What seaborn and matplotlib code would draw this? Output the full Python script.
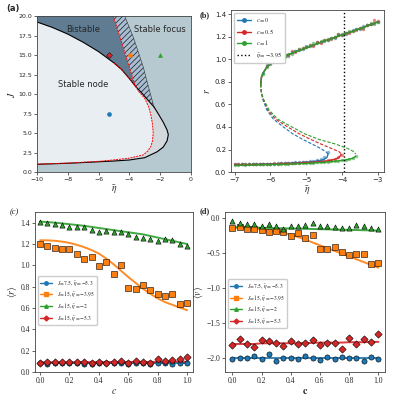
import numpy as np
import seaborn as sns
import matplotlib.pyplot as plt
from matplotlib.lines import Line2D

sns.set_style("ticks")
plt.rcParams["font.family"] = ["DejaVu Sans"]
plt.rcParams["mathtext.fontset"] = "stix"
plt.rcParams["hatch.linewidth"] = 0.5

BLUE, ORANGE, GREEN, RED = "#1f77b4", "#ff7f0e", "#2ca02c", "#d62728"

# ---- panel (a): phase diagram boundaries
sn_left_eta = [-10, -9, -8, -7, -6, -5, -4.5, -4, -3.6, -3.2, -2.8, -2.4]
sn_left_J = [19.25, 18.55, 17.7, 16.65, 15.45, 14.0, 13.15, 12.0, 11.0, 10.15, 9.25, 8.35]
sn_right_eta = [-2.4, -2.7, -3.1, -3.75, -4.3]
sn_right_J = [8.35, 10.5, 13.5, 17.35, 20]
red_top_eta = [-5.05, -4.75, -4.45, -4.15, -3.85, -3.6]
red_top_J = [20, 18.2, 16.3, 14.4, 12.5, 11.0]
node_eta = [-3.6, -3.4, -3.0, -2.75, -2.6, -2.5, -2.45, -2.5, -2.6, -2.8, -3.1, -3.96, -5.05, -6, -8, -10]
node_J = [11.0, 10.35, 9.45, 8.4, 7.3, 6.2, 5.0, 4.0, 3.3, 2.7, 2.2, 1.8, 1.55, 1.38, 1.15, 1.02]
focus_eta = [-2.4, -2.1, -1.8, -1.55, -1.47, -1.55, -1.8, -2.2, -3.0, -4.0, -5.0, -6.0, -8.0, -10.0]
focus_J = [8.35, 7.4, 6.4, 5.4, 4.8, 4.0, 3.2, 2.6, 1.85, 1.55, 1.42, 1.32, 1.13, 1.0]
pt_eta = [-5.3, -3.95, -2, -5.3]
pt_J = [7.5, 15, 15, 15]
pt_color = [BLUE, ORANGE, GREEN, RED]
pt_marker = ["o", "o", "^", "D"]

# ---- panel (b): bifurcation curves r(eta) at J=15
up_eta = [-6.27, -6.25, -6.2, -6.1, -6.0, -5.8, -5.5, -5.0, -4.5, -4.0, -3.5, -3.0]
up_r = [0.78, 0.84, 0.88, 0.93, 0.96, 1.0, 1.04, 1.10, 1.16, 1.215, 1.27, 1.33]
mid_r = [0.78, 0.72, 0.65, 0.55, 0.47, 0.40, 0.34, 0.29, 0.25, 0.21, 0.18, 0.16]
mid_eta = {
    "blue": [-6.27, -6.26, -6.22, -6.1, -5.92, -5.64, -5.38, -5.1, -4.85, -4.6, -4.45, -4.39],
    "red": [-6.27, -6.26, -6.21, -6.07, -5.86, -5.52, -5.2, -4.88, -4.6, -4.3, -4.08, -4.02],
    "green": [-6.27, -6.26, -6.2, -6.04, -5.8, -5.4, -5.05, -4.65, -4.2, -3.85, -3.66, -3.62],
}
lo_eta = {
    "blue": [-7, -6.5, -6, -5.5, -5, -4.8, -4.6, -4.5, -4.42, -4.39],
    "red": [-7, -6.5, -6, -5.5, -5, -4.6, -4.4, -4.2, -4.08, -4.02],
    "green": [-7, -6.5, -6, -5.5, -5, -4.5, -4.2, -3.9, -3.7, -3.62],
}
lo_r = {
    "blue": [0.065, 0.068, 0.072, 0.078, 0.087, 0.093, 0.103, 0.112, 0.13, 0.16],
    "red": [0.063, 0.066, 0.07, 0.075, 0.083, 0.092, 0.1, 0.113, 0.13, 0.157],
    "green": [0.06, 0.063, 0.067, 0.071, 0.077, 0.087, 0.095, 0.108, 0.122, 0.14],
}

# simulation points on eta = -7.0 ... -3.0 (step 0.1)
eta_sim = [-7.0, -6.9, -6.8, -6.7, -6.6, -6.5, -6.4, -6.3, -6.2, -6.1, -6.0, -5.9, -5.8, -5.7,
           -5.6, -5.5, -5.4, -5.3, -5.2, -5.1, -5.0, -4.9, -4.8, -4.7, -4.6, -4.5, -4.4, -4.3,
           -4.2, -4.1, -4.0, -3.9, -3.8, -3.7, -3.6, -3.5, -3.4, -3.3, -3.2, -3.1, -3.0]
nan = np.nan
sim_up = {
    "blue": [nan] * 8 + [0.88, 0.95, 0.96, 0.98, 1.00, 1.00, 1.03, 1.03, 1.06, 1.07, 1.08, 1.09,
                         1.12, 1.12, 1.13, 1.15, 1.15, 1.16, 1.17, 1.19, 1.19, 1.21, 1.22, 1.22,
                         1.24, 1.26, 1.27, 1.27, 1.29, 1.30, 1.31, 1.32, 1.33],
    "red": [nan] * 9 + [0.94, 0.97, 0.99, 1.01, 1.02, 1.04, 1.04, 1.07, 1.06, 1.09, 1.10, 1.11,
                        1.13, 1.12, 1.15, 1.14, 1.17, 1.18, 1.18, 1.20, 1.22, 1.21, 1.23, 1.23,
                        1.25, 1.26, 1.28, 1.27, 1.30, 1.31, 1.35, 1.34],
    "green": [nan] * 8 + [0.87, 0.93, 0.97, 0.99, 0.99, 1.01, 1.02, 1.05, 1.05, 1.07, 1.09, 1.10,
                          1.11, 1.13, 1.14, 1.14, 1.16, 1.17, 1.17, 1.19, 1.20, 1.22, 1.21, 1.23,
                          1.25, 1.25, 1.27, 1.28, 1.28, 1.30, 1.32, 1.31, 1.33],
}
sim_lo = {
    "blue": [0.07, 0.072, 0.068, 0.07, 0.073, 0.07, 0.072, 0.075, 0.071, 0.074, 0.076, 0.074,
             0.078, 0.077, 0.08, 0.082, 0.081, 0.085, 0.087, 0.089, 0.093, 0.097, 0.1, 0.106,
             0.115, 0.13, 0.178] + [nan] * 14,
    "red": [0.068, 0.07, 0.072, 0.069, 0.07, 0.073, 0.07, 0.074, 0.072, 0.075, 0.073, 0.077,
            0.076, 0.078, 0.08, 0.079, 0.082, 0.081, 0.084, 0.085, 0.087, 0.09, 0.092, 0.095,
            0.098, 0.1, 0.105, 0.11, 0.118, 0.13, 0.155] + [nan] * 10,
    "green": [0.065, 0.067, 0.07, 0.066, 0.068, 0.07, 0.072, 0.068, 0.071, 0.07, 0.073, 0.072,
              0.074, 0.073, 0.076, 0.075, 0.078, 0.077, 0.079, 0.08, 0.082, 0.081, 0.084, 0.086,
              0.088, 0.09, 0.092, 0.095, 0.098, 0.1, 0.106, 0.11, 0.118, 0.128, 0.14] + [nan] * 6,
}
b_colors = {"blue": BLUE, "red": RED, "green": GREEN}
b_labels = {"blue": r"$c=0$", "red": r"$c=0.5$", "green": r"$c=1$"}

# ---- panels (c) and (d): mean rate / voltage vs c
c_vals = [0.0, 0.05, 0.1, 0.15, 0.2, 0.25, 0.3, 0.35, 0.4, 0.45, 0.5,
          0.55, 0.6, 0.65, 0.7, 0.75, 0.8, 0.85, 0.9, 0.95, 1.0]
series_labels = [r"$J\!=\!7.5,\,\bar{\eta}=-5.3$", r"$J\!=\!15,\,\bar{\eta}=-3.95$",
                 r"$J\!=\!15,\,\bar{\eta}=-2$", r"$J\!=\!15,\,\bar{\eta}=-5.3$"]
series_colors = [BLUE, ORANGE, GREEN, RED]
series_markers = ["o", "s", "^", "D"]

r_sim = [
    [0.08, 0.075, 0.08, 0.08, 0.08, 0.08, 0.075, 0.075, 0.08, 0.08, 0.08,
     0.08, 0.075, 0.08, 0.08, 0.075, 0.08, 0.08, 0.075, 0.08, 0.08],
    [1.20, 1.18, 1.16, 1.15, 1.155, 1.11, 1.06, 1.075, 0.995, 1.03, 0.92,
     1.0, 0.79, 0.775, 0.82, 0.765, 0.735, 0.715, 0.735, 0.64, 0.65],
    [1.41, 1.40, 1.39, 1.375, 1.36, 1.36, 1.36, 1.33, 1.31, 1.32, 1.31,
     1.31, 1.29, 1.27, 1.26, 1.25, 1.23, 1.25, 1.24, 1.20, 1.18],
    [0.085, 0.095, 0.09, 0.09, 0.095, 0.09, 0.09, 0.085, 0.095, 0.085, 0.095,
     0.10, 0.085, 0.10, 0.09, 0.085, 0.12, 0.10, 0.115, 0.125, 0.14],
]
r_theory = [
    [0.082] * 21,
    [1.235, 1.234, 1.23, 1.222, 1.21, 1.192, 1.17, 1.143, 1.11, 1.063, 1.01,
     0.95, 0.89, 0.835, 0.78, 0.733, 0.69, 0.655, 0.63, 0.603, 0.58],
    [1.41, 1.405, 1.40, 1.393, 1.385, 1.378, 1.37, 1.36, 1.35, 1.34, 1.33,
     1.32, 1.31, 1.30, 1.29, 1.275, 1.26, 1.245, 1.23, 1.215, 1.20],
    [0.09, 0.09, 0.09, 0.091, 0.091, 0.091, 0.092, 0.092, 0.092, 0.093, 0.093,
     0.093, 0.094, 0.094, 0.094, 0.095, 0.095, 0.095, 0.096, 0.096, 0.097],
]
v_sim = [
    [-2.01, -2.0, -2.0, -1.97, -2.01, -1.94, -2.04, -2.0, -2.0, -2.02, -1.97,
     -2.0, -2.03, -1.98, -2.02, -1.99, -2.0, -2.0, -2.04, -1.99, -2.02],
    [-0.15, -0.13, -0.16, -0.16, -0.17, -0.20, -0.18, -0.20, -0.26, -0.22, -0.29,
     -0.24, -0.45, -0.44, -0.41, -0.48, -0.53, -0.52, -0.51, -0.66, -0.64],
    [-0.04, -0.07, -0.09, -0.08, -0.12, -0.09, -0.12, -0.16, -0.11, -0.12, -0.10,
     -0.07, -0.11, -0.12, -0.13, -0.14, -0.15, -0.10, -0.12, -0.15, -0.16],
    [-1.82, -1.73, -1.80, -1.85, -1.74, -1.76, -1.78, -1.83, -1.76, -1.80, -1.78,
     -1.75, -1.81, -1.79, -1.79, -1.87, -1.72, -1.80, -1.73, -1.77, -1.66],
]
v_theory = [
    [-2.0] * 21,
    [-0.14, -0.142, -0.145, -0.15, -0.16, -0.173, -0.19, -0.212, -0.24, -0.272, -0.31,
     -0.35, -0.39, -0.43, -0.47, -0.51, -0.55, -0.59, -0.63, -0.67, -0.71],
    [-0.13, -0.132, -0.135, -0.137, -0.14, -0.142, -0.145, -0.147, -0.15, -0.152, -0.155,
     -0.157, -0.16, -0.162, -0.165, -0.167, -0.17, -0.172, -0.175, -0.177, -0.18],
    [-1.80, -1.80, -1.80, -1.80, -1.79, -1.79, -1.79, -1.79, -1.79, -1.79, -1.785,
     -1.785, -1.78, -1.78, -1.78, -1.78, -1.775, -1.775, -1.775, -1.77, -1.77],
]

fig = plt.figure(figsize=(3.97, 4.03), dpi=100)
ax_a = fig.add_axes([0.093, 0.573, 0.388, 0.387])
ax_b = fig.add_axes([0.582, 0.573, 0.385, 0.402])
ax_c = fig.add_axes([0.088, 0.077, 0.398, 0.397])
ax_d = fig.add_axes([0.567, 0.077, 0.403, 0.397])

for ax in (ax_a, ax_b, ax_c, ax_d):
    ax.tick_params(labelsize=5, length=2, width=0.5, pad=1.5)
    for s in ax.spines.values():
        s.set_linewidth(0.6)
        s.set_color("#444444")
ax_a.tick_params(labelsize=4.5)

# ---- (a)
ax_a.set_facecolor("#b7c9d0")
k = sn_left_eta.index(-3.6)
ax_a.fill(sn_left_eta + focus_eta, sn_left_J + focus_J, color="#d4d9dd", lw=0)
ax_a.fill(sn_left_eta[:k + 1] + node_eta, sn_left_J[:k + 1] + node_J, color="#e9eef3", lw=0)
ax_a.fill([-10] + sn_left_eta[:k + 1] + red_top_eta[::-1],
          [20] + sn_left_J[:k + 1] + red_top_J[::-1], color="#5f7c92", lw=0)
ax_a.fill(red_top_eta + sn_left_eta[k:] + sn_right_eta,
          red_top_J + sn_left_J[k:] + sn_right_J,
          facecolor="#a6bdd2", edgecolor="#1a1a1a", hatch="//////", lw=0)
ax_a.plot(sn_left_eta, sn_left_J, color="k", lw=0.8)
ax_a.plot(focus_eta, focus_J, color="k", lw=0.8)
ax_a.plot(sn_right_eta, sn_right_J, color="#333333", lw=0.4)
ax_a.plot(red_top_eta, red_top_J, color="red", lw=0.7, ls=(0, (2, 1)))
ax_a.plot(node_eta, node_J, color="red", lw=0.7, ls=(0, (2, 1)))
ax_a.plot(sn_left_eta[5:k + 1], sn_left_J[5:k + 1], color="red", lw=0.6, ls=(0, (2, 1)))
for x, y, col, m in zip(pt_eta, pt_J, pt_color, pt_marker):
    ax_a.plot(x, y, marker=m, color=col, ms=3, mec="k" if m == "D" else col, mew=0.3)
ax_a.text(-7.0, 18.25, "Bistable", fontsize=6, ha="center", va="center")
ax_a.text(-2.0, 18.25, "Stable focus", fontsize=6, ha="center", va="center")
ax_a.text(-7.0, 11.2, "Stable node", fontsize=6, ha="center", va="center")
ax_a.set_xlim(-10, 0)
ax_a.set_ylim(0, 20)
ax_a.set_xticks([-10, -8, -6, -4, -2, 0])
ax_a.set_yticks([0, 2.5, 5, 7.5, 10, 12.5, 15, 17.5, 20])
ax_a.set_yticklabels(["0.0", "2.5", "5.0", "7.5", "10.0", "12.5", "15.0", "17.5", "20.0"])
ax_a.set_xlabel(r"$\bar{\eta}$", fontsize=7, labelpad=1)
ax_a.set_ylabel(r"$J$", fontsize=7, labelpad=1)

# ---- (b)
for key in ["blue", "red", "green"]:
    col = b_colors[key]
    sns.lineplot(x=eta_sim, y=sim_up[key], ax=ax_b, color=col, marker="o", ms=2.5,
                 lw=0, alpha=0.55, mew=0, sort=False)
    sns.lineplot(x=eta_sim, y=sim_lo[key], ax=ax_b, color=col, marker="o", ms=2.5,
                 lw=0, alpha=0.55, mew=0, sort=False)
for key in ["blue", "red", "green"]:
    col = b_colors[key]
    ax_b.plot(up_eta, up_r, color=col, lw=1.0)
    ax_b.plot(lo_eta[key], lo_r[key], color=col, lw=1.0)
    ax_b.plot(mid_eta[key], mid_r, color=col, lw=0.8, ls=(0, (3, 1.5)))
ax_b.axvline(-3.95, color="k", ls=":", lw=1.0)
handles = [Line2D([0], [0], color=b_colors[k_], marker="o", ms=2.5, lw=1) for k_ in b_colors]
handles.append(Line2D([0], [0], color="k", ls=":", lw=1))
ax_b.legend(handles, [b_labels[k_] for k_ in b_colors] + [r"$\bar{\eta}=-3.95$"],
            loc="upper left", fontsize=4.5, handlelength=2.2, borderpad=0.5,
            labelspacing=0.4, frameon=True, framealpha=1, edgecolor="#cccccc")
ax_b.set_xlim(-7.1, -2.83)
ax_b.set_ylim(0, 1.435)
ax_b.set_xticks([-7, -6, -5, -4, -3])
ax_b.set_xlabel(r"$\bar{\eta}$", fontsize=7, labelpad=1)
ax_b.set_ylabel(r"$r$", fontsize=7, labelpad=2)


def draw_c_panel(ax, sims, theories):
    for sim, th, col, m in zip(sims, theories, series_colors, series_markers):
        sns.lineplot(x=c_vals, y=th, ax=ax, color=col, lw=1.4, alpha=0.9)
        sns.scatterplot(x=c_vals, y=sim, ax=ax, color=col, marker=m, s=14,
                        edgecolor="k", linewidth=0.4, zorder=3)
    hs = [Line2D([0], [0], color=col, marker=m, ms=2.5, lw=1)
          for col, m in zip(series_colors, series_markers)]
    return hs


# ---- (c)
hs = draw_c_panel(ax_c, r_sim, r_theory)
ax_c.legend(hs, series_labels, loc="upper left", bbox_to_anchor=(0.0, 0.62), fontsize=4,
            handlelength=2.2, borderpad=0.4, labelspacing=0.3, framealpha=1,
            edgecolor="#cccccc")
ax_c.set_xlim(-0.035, 1.04)
ax_c.set_ylim(0, 1.5)
ax_c.set_xticks([0, 0.2, 0.4, 0.6, 0.8, 1.0])
ax_c.set_yticks([0, 0.2, 0.4, 0.6, 0.8, 1.0, 1.2, 1.4])
ax_c.set_xlabel(r"$c$", fontsize=7, labelpad=1)
ax_c.set_ylabel(r"$\langle r\rangle$", fontsize=7, labelpad=1)

# ---- (d)
hs = draw_c_panel(ax_d, v_sim, v_theory)
ax_d.legend(hs, series_labels, loc="upper left", bbox_to_anchor=(0.0, 0.6), fontsize=4,
            handlelength=2.2, borderpad=0.4, labelspacing=0.3, framealpha=1,
            edgecolor="#cccccc")
ax_d.set_xlim(-0.05, 1.046)
ax_d.set_ylim(-2.2, 0.086)
ax_d.set_xticks([0, 0.2, 0.4, 0.6, 0.8, 1.0])
ax_d.set_yticks([-2.0, -1.5, -1.0, -0.5, 0.0])
ax_d.set_xlabel(r"$\mathbf{c}$", fontsize=7, labelpad=1)
ax_d.set_ylabel(r"$\langle v\rangle$", fontsize=7, labelpad=1)

for ax in (ax_c, ax_d):
    ax.figure.canvas.draw()
    for lab in ax.get_xticklabels() + ax.get_yticklabels():
        lab.set_fontfamily("Liberation Serif")
        lab.set_fontsize(5.5)

fig.text(0.015, 0.98, "(a)", fontsize=6, fontweight="bold", ha="left", va="center")
fig.text(0.504, 0.962, "(b)", fontsize=6, fontweight="bold", family="Liberation Serif",
         ha="left", va="center")
fig.text(0.025, 0.473, "(c)", fontsize=6, style="italic", family="Liberation Serif",
         ha="left", va="center")
fig.text(0.502, 0.476, "(d)", fontsize=6, fontweight="bold", family="Liberation Serif",
         ha="left", va="center")

fig.savefig("out.png", dpi=100)
